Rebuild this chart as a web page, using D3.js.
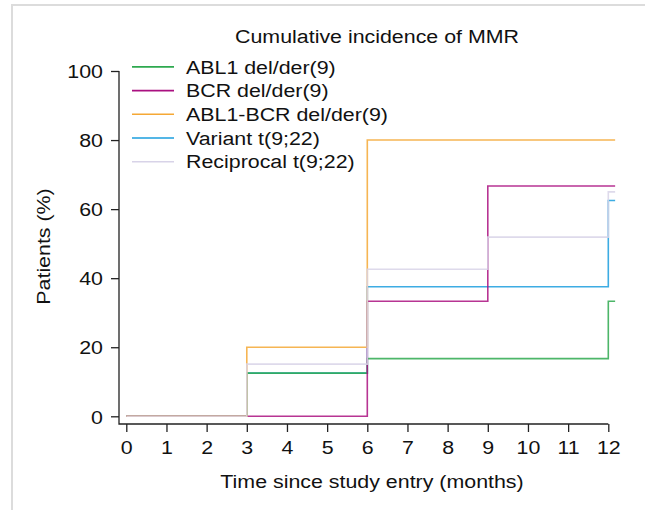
<!DOCTYPE html>
<html>
<head>
<meta charset="utf-8">
<script src="https://cdn.jsdelivr.net/npm/d3@7"></script>
<style>
  body { margin: 0; background: #fff; }
  text { font-family: "Liberation Sans", Arial, sans-serif; fill: #111; }
</style>
</head>
<body>
<div id="viz"></div>
<script>
const xTicks = [0, 1, 2, 3, 4, 5, 6, 7, 8, 9, 10, 11, 12];
const yTicks = [0, 20, 40, 60, 80, 100];

const seriesNames = ["ABL1 del/der(9)", "BCR del/der(9)", "ABL1-BCR del/der(9)", "Variant t(9;22)", "Reciprocal t(9;22)"];
const seriesColors = ["#2ea94f", "#aa1080", "#f5a835", "#1b9ede", "#d8d3e8"];

// step data: time (months) and cumulative incidence (%)
const abl1Times = [0, 3, 6, 12, 12.17];
const abl1Values = [0, 12.5, 16.7, 33.3, 33.3];
const bcrTimes = [0, 6, 9, 12.17];
const bcrValues = [0, 33.3, 66.7, 66.7];
const abl1bcrTimes = [0, 3, 6, 12.17];
const abl1bcrValues = [0, 20, 80, 80];
const variantTimes = [0, 3, 6, 12, 12.17];
const variantValues = [0, 12.5, 37.5, 62.5, 62.5];
const reciprocalTimes = [0, 3, 6, 9, 12, 12.17];
const reciprocalValues = [0, 15.1, 42.6, 51.9, 65, 65];

const width = 645;
const height = 510;
const fontSize = 18.6;
const stretch = 1.15;

const svg = d3.select("#viz").append("svg")
    .attr("width", width)
    .attr("height", height);

// figure frame (top and left edges only)
svg.append("path")
    .attr("d", "M12,510 L12,5 L645,5")
    .attr("fill", "none")
    .attr("stroke", "#dcdcdc")
    .attr("stroke-width", 2);

const x = d3.scaleLinear().domain([0, 12]).range([126.3, 608.3]);
const y = d3.scaleLinear().domain([0, 100]).range([416.3, 71]);
const axisY = 424;
const axisX = 119;

// title
svg.append("text")
    .attr("transform", "translate(377,43) scale(" + stretch + ",1)")
    .attr("text-anchor", "middle")
    .attr("font-size", fontSize)
    .text("Cumulative incidence of MMR");

// x axis
const xAxis = svg.append("g")
    .attr("transform", "translate(0," + axisY + ")")
    .call(d3.axisBottom(x).tickValues(xTicks).tickSize(8).tickSizeOuter(0));
xAxis.select(".domain").remove();
xAxis.selectAll(".tick line").attr("stroke", "#222").attr("stroke-width", 1.3);
xAxis.selectAll(".tick text")
    .attr("y", 30).attr("dy", 0)
    .attr("font-size", fontSize)
    .attr("font-family", null)
    .attr("fill", "#111")
    .attr("transform", "scale(" + stretch + ",1)");

// y axis
const yAxis = svg.append("g")
    .attr("transform", "translate(" + axisX + ",0)")
    .call(d3.axisLeft(y).tickValues(yTicks).tickSize(8).tickSizeOuter(0));
yAxis.select(".domain").remove();
yAxis.selectAll(".tick line").attr("stroke", "#222").attr("stroke-width", 1.3);
yAxis.selectAll(".tick text")
    .attr("x", -16 / stretch).attr("dy", 6.7)
    .attr("font-size", fontSize)
    .attr("font-family", null)
    .attr("fill", "#111")
    .attr("transform", "scale(" + stretch + ",1)");

// L-shaped axis lines
svg.append("path")
    .attr("d", "M" + axisX + "," + y(100) + " L" + axisX + "," + axisY + " L" + x(12) + "," + axisY)
    .attr("fill", "none")
    .attr("stroke", "#222")
    .attr("stroke-width", 1.3);

// axis titles
svg.append("text")
    .attr("transform", "translate(372,488) scale(" + stretch + ",1)")
    .attr("text-anchor", "middle")
    .attr("font-size", fontSize)
    .text("Time since study entry (months)");

svg.append("text")
    .attr("transform", "translate(50,246.5) rotate(-90) scale(" + stretch + ",1)")
    .attr("text-anchor", "middle")
    .attr("font-size", fontSize)
    .text("Patients (%)");

// step curves
const series = [
    { times: abl1Times, values: abl1Values },
    { times: bcrTimes, values: bcrValues },
    { times: abl1bcrTimes, values: abl1bcrValues },
    { times: variantTimes, values: variantValues },
    { times: reciprocalTimes, values: reciprocalValues }
].map((s, i) => ({ name: seriesNames[i], color: seriesColors[i], points: s.times.map((t, j) => [t, s.values[j]]) }));

const line = d3.line()
    .x(d => x(d[0]))
    .y(d => y(d[1]))
    .curve(d3.curveStepAfter);

const drawOrder = [3, 0, 1, 2, 4];
svg.append("g")
    .selectAll("path")
    .data(drawOrder.map(i => series[i]))
    .enter()
    .append("path")
    .attr("d", d => line(d.points))
    .attr("fill", "none")
    .attr("stroke", d => d.color)
    .attr("stroke-width", 1.6)
    .attr("stroke-opacity", 0.85);

// legend
const legend = svg.append("g")
    .selectAll("g")
    .data(series)
    .enter()
    .append("g")
    .attr("transform", (d, i) => "translate(0," + (66.9 + i * 23.7) + ")");

legend.append("line")
    .attr("x1", 132)
    .attr("x2", 174)
    .attr("stroke", d => d.color)
    .attr("stroke-width", 1.6);

legend.append("text")
    .attr("transform", "translate(186,6.7) scale(" + stretch + ",1)")
    .attr("font-size", fontSize)
    .text(d => d.name);
</script>
</body>
</html>
